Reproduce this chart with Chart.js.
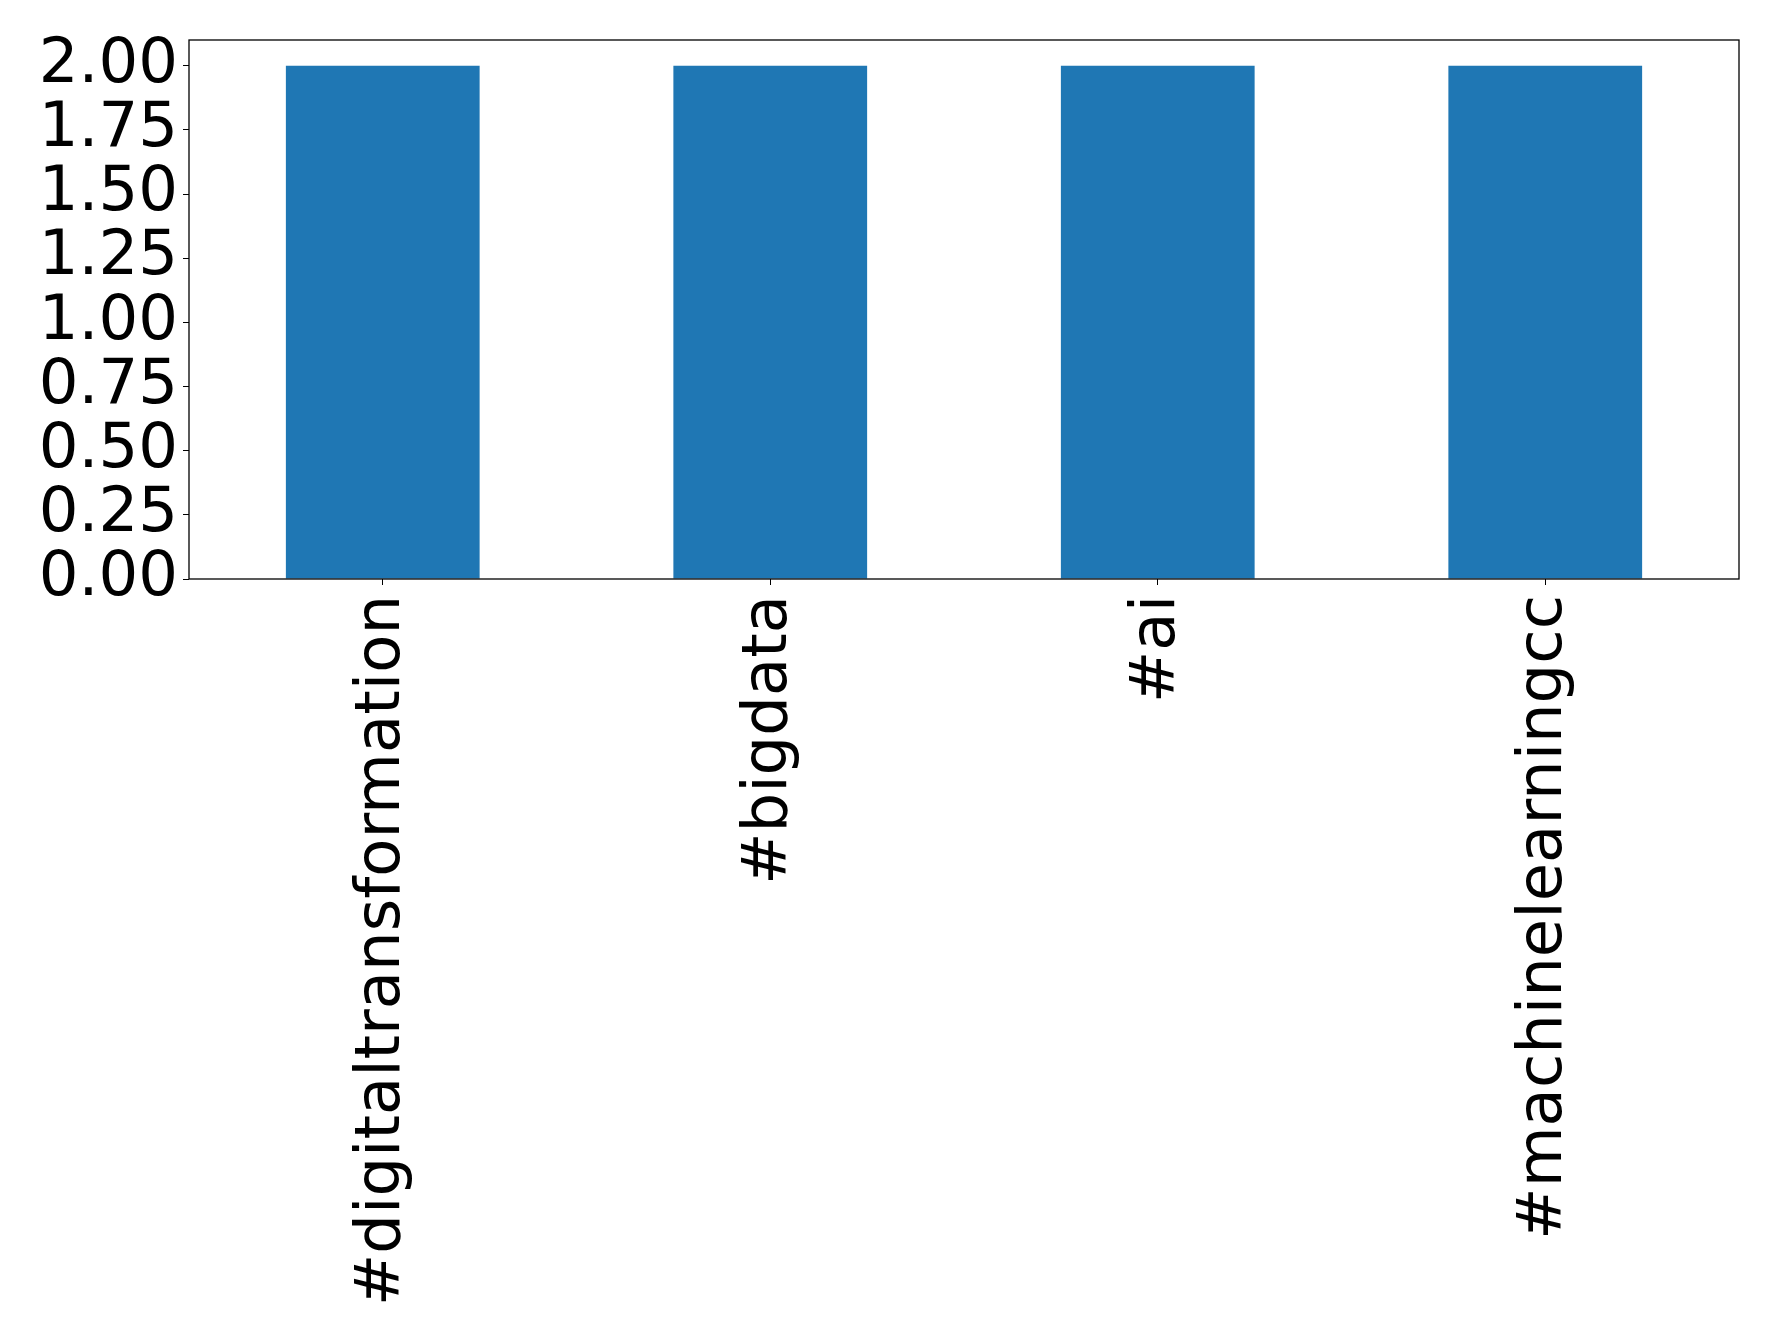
<!DOCTYPE html>
<html>
<head>
<meta charset="utf-8">
<script src="https://cdn.jsdelivr.net/npm/chart.js@4"></script>
<style>
  html, body { margin: 0; padding: 0; background: #fff; }
  #wrap { width: 1778px; height: 1339px; }
</style>
</head>
<body>
<div id="wrap"><canvas id="chart" width="1778" height="1339"></canvas></div>
<script>
// datos del grafico
const categories = ["#digitaltransformation", "#bigdata", "#ai", "#machinelearningcc"];
const counts = [2, 2, 2, 2];
const yTicks = [0, 0.25, 0.5, 0.75, 1.0, 1.25, 1.5, 1.75, 2.0];
const yMax = 2.1;

// dibuja el marco negro alrededor del area del grafico
const framePlugin = {
  id: "frame",
  afterDraw(chart) {
    const a = chart.chartArea;
    const ctx = chart.ctx;
    ctx.save();
    ctx.strokeStyle = "#000";
    ctx.lineWidth = 1.3;
    ctx.strokeRect(a.left, a.top, a.right - a.left, a.bottom - a.top);
    ctx.restore();
  }
};

Chart.defaults.font.family = "'DejaVu Sans', sans-serif";
Chart.defaults.color = "#000";

const chart = new Chart(document.getElementById("chart"), {
  type: "bar",
  data: {
    labels: categories,
    datasets: [
      {
        data: counts,
        backgroundColor: "#1f77b4",
        borderWidth: 0,
        categoryPercentage: 0.5,
        barPercentage: 1.0
      }
    ]
  },
  options: {
    responsive: false,
    animation: false,
    layout: { autoPadding: false, padding: { top: 40, right: 39, left: 0, bottom: 0 } },
    plugins: { legend: { display: false }, tooltip: { enabled: false } },
    scales: {
      x: {
        offset: true,
        grid: { display: true, drawOnChartArea: false, drawTicks: true, tickLength: 6, color: "#000", offset: false },
        border: { display: false },
        ticks: { font: { size: 62.5 }, minRotation: 90, maxRotation: 90, padding: 10, autoSkip: false },
        afterFit(scale) {
          scale.height = 1339 - 579;
          scale.paddingLeft = 0;
          scale.paddingRight = 0;
        }
      },
      y: {
        min: 0,
        max: yMax,
        grid: { display: true, drawOnChartArea: false, drawTicks: true, tickLength: 6, color: "#000" },
        border: { display: false },
        ticks: {
          autoSkip: false,
          font: { size: 62.5 },
          padding: 5,
          callback: (v) => Number(v).toFixed(2)
        },
        afterBuildTicks(scale) {
          // usamos solo los ticks de la lista
          scale.ticks = yTicks.map((v) => ({ value: v }));
        },
        afterFit(scale) {
          scale.width = 189;
          scale.paddingTop = 0;
          scale.paddingBottom = 0;
        }
      }
    }
  },
  plugins: [framePlugin]
});
</script>
</body>
</html>
